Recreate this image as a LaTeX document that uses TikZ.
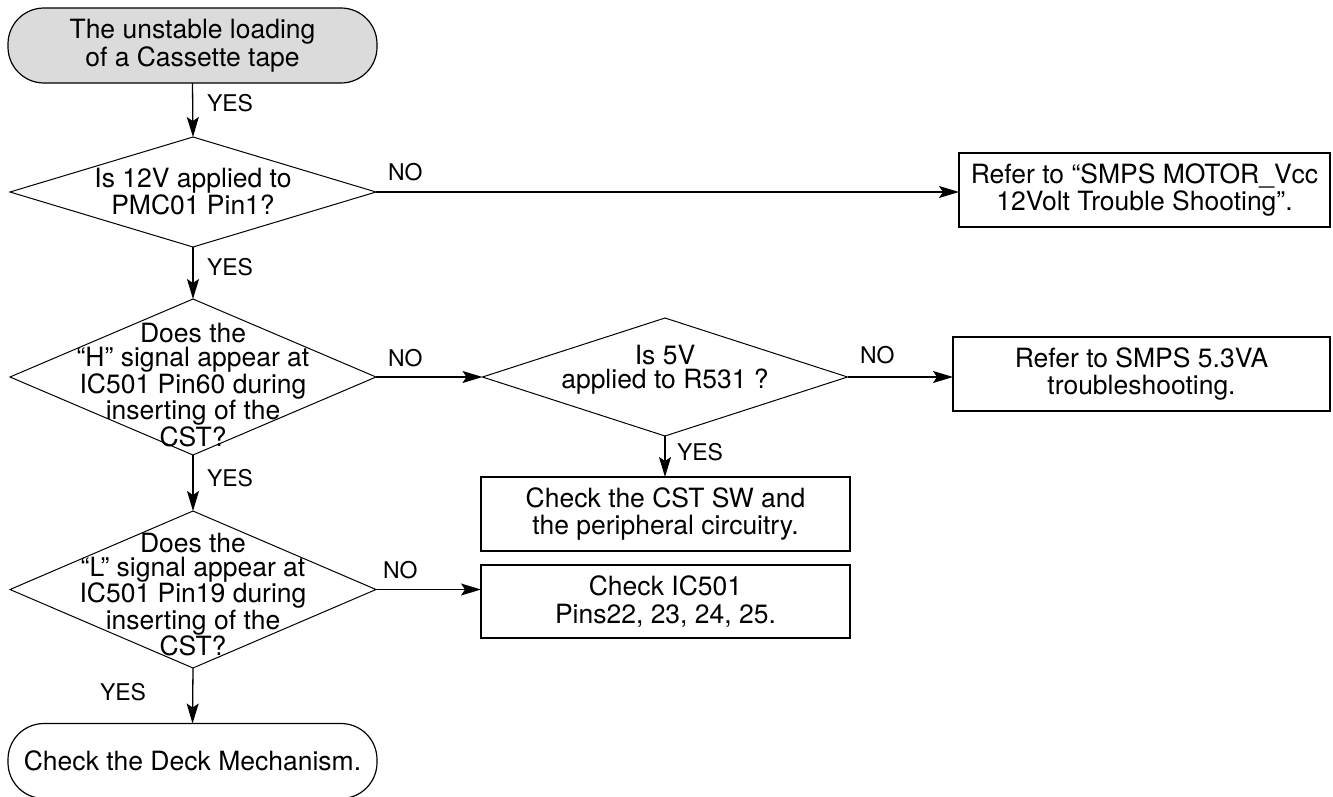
\documentclass[tikz,border=0pt]{standalone}
\usepackage{fontspec}
\setmainfont{TeX Gyre Heros}
\usetikzlibrary{arrows.meta}
\begin{document}
\begin{tikzpicture}[x=1pt,y=-1pt,
  every node/.style={inner sep=0pt, outer sep=0pt},
  bodytext/.style={font=\fontsize{26.5}{27.5}\selectfont, align=center},
  term/.style={bodytext, draw, line width=1.2pt, rounded corners=36pt,
    minimum width=369pt, minimum height=75pt},
  startterm/.style={term, fill=black!14},
  procbox/.style={bodytext, draw, line width=1.2pt, minimum height=74pt},
  diaframe/.style={rectangle, draw=none},
  diatext/.style={font=\fontsize{26.5}{24}\selectfont, align=center},
  flow/.style={line width=1.3pt, -{Stealth[length=20pt,width=12pt,inset=4pt]}},
  tag/.style={font=\fontsize{23}{23}\selectfont, anchor=west}
]
\useasboundingbox (0,0) rectangle (1333,796);

% terminals
\node[startterm] (start) at (192.5,45.5) {The unstable loading\\of a Cassette tape};
\node[term] (stop) at (192.5,761) {Check the Deck Mechanism.};

% decision frames (outlines drawn below) and their texts
\node[diaframe, minimum width=366pt, minimum height=110pt] (d1) at (193,192) {};
\node[diaframe, minimum width=366pt, minimum height=156pt] (d2) at (193,377) {};
\node[diaframe, minimum width=366pt, minimum height=157pt] (d3) at (193,589.5) {};
\node[diaframe, minimum width=365pt, minimum height=118pt] (d4) at (665,377) {};

\foreach \d in {d1,d2,d3,d4}
  \draw[line width=1pt] (\d.north) -- (\d.east) -- (\d.south) -- (\d.west) -- cycle;

\node[diatext] (d1t) at (193,191.5) {Is 12V applied to\\PMC01 Pin1?};
\node[diatext] (d2t) at (193,385) {Does the\\``H'' signal appear at\\IC501 Pin60 during\\inserting of the\\CST?};
\node[diatext] (d3t) at (193,594.5) {Does the\\``L'' signal appear at\\IC501 Pin19 during\\inserting of the\\CST?};
\node[diatext] (d4t) at (665,370) {Is 5V\\applied to R531 ?};

% action boxes
\node[procbox, minimum width=371pt] (r1) at (1144.5,190) {Refer to ``SMPS MOTOR\_Vcc\\12Volt Trouble Shooting''.};
\node[procbox, minimum width=377pt] (r2) at (1141.5,374) {Refer to SMPS 5.3VA\\troubleshooting.};
\node[procbox, minimum width=369pt] (r3) at (665.5,514) {Check the CST SW and\\the peripheral circuitry.};
\node[procbox, minimum width=369pt, minimum height=73pt] (r4) at (665.5,601.5) {Check IC501\\Pins22, 23, 24, 25.};

% connectors
\draw[flow] (start.south) -- (d1.north);
\draw[flow] (d1.south) -- (d2.north);
\draw[flow] (d2.south) -- (d3.north);
\draw[flow] (d3.south) -- (stop.north);
\draw[flow] (d1.east) -- (d1.east -| r1.west);
\draw[flow] (d2.east) -- (d4.west);
\draw[flow] (d4.east) -- (d4.east -| r2.west);
\draw[flow] (d4.south) -- (d4.south |- r3.north);
\draw[flow] (d3.east) -- (d3.east -| r4.west);

% branch labels
\node[tag] (y1) at (207,103) {YES};
\node[tag] (y2) at (207,267) {YES};
\node[tag] (y3) at (207,478) {YES};
\node[tag] (y4) at (100,692) {YES};
\node[tag] (y5) at (677,452) {YES};
\node[tag] (n1) at (388,172) {NO};
\node[tag] (n2) at (388,358) {NO};
\node[tag] (n3) at (860,355) {NO};
\node[tag] (n4) at (383,570) {NO};
\end{tikzpicture}
\end{document}
